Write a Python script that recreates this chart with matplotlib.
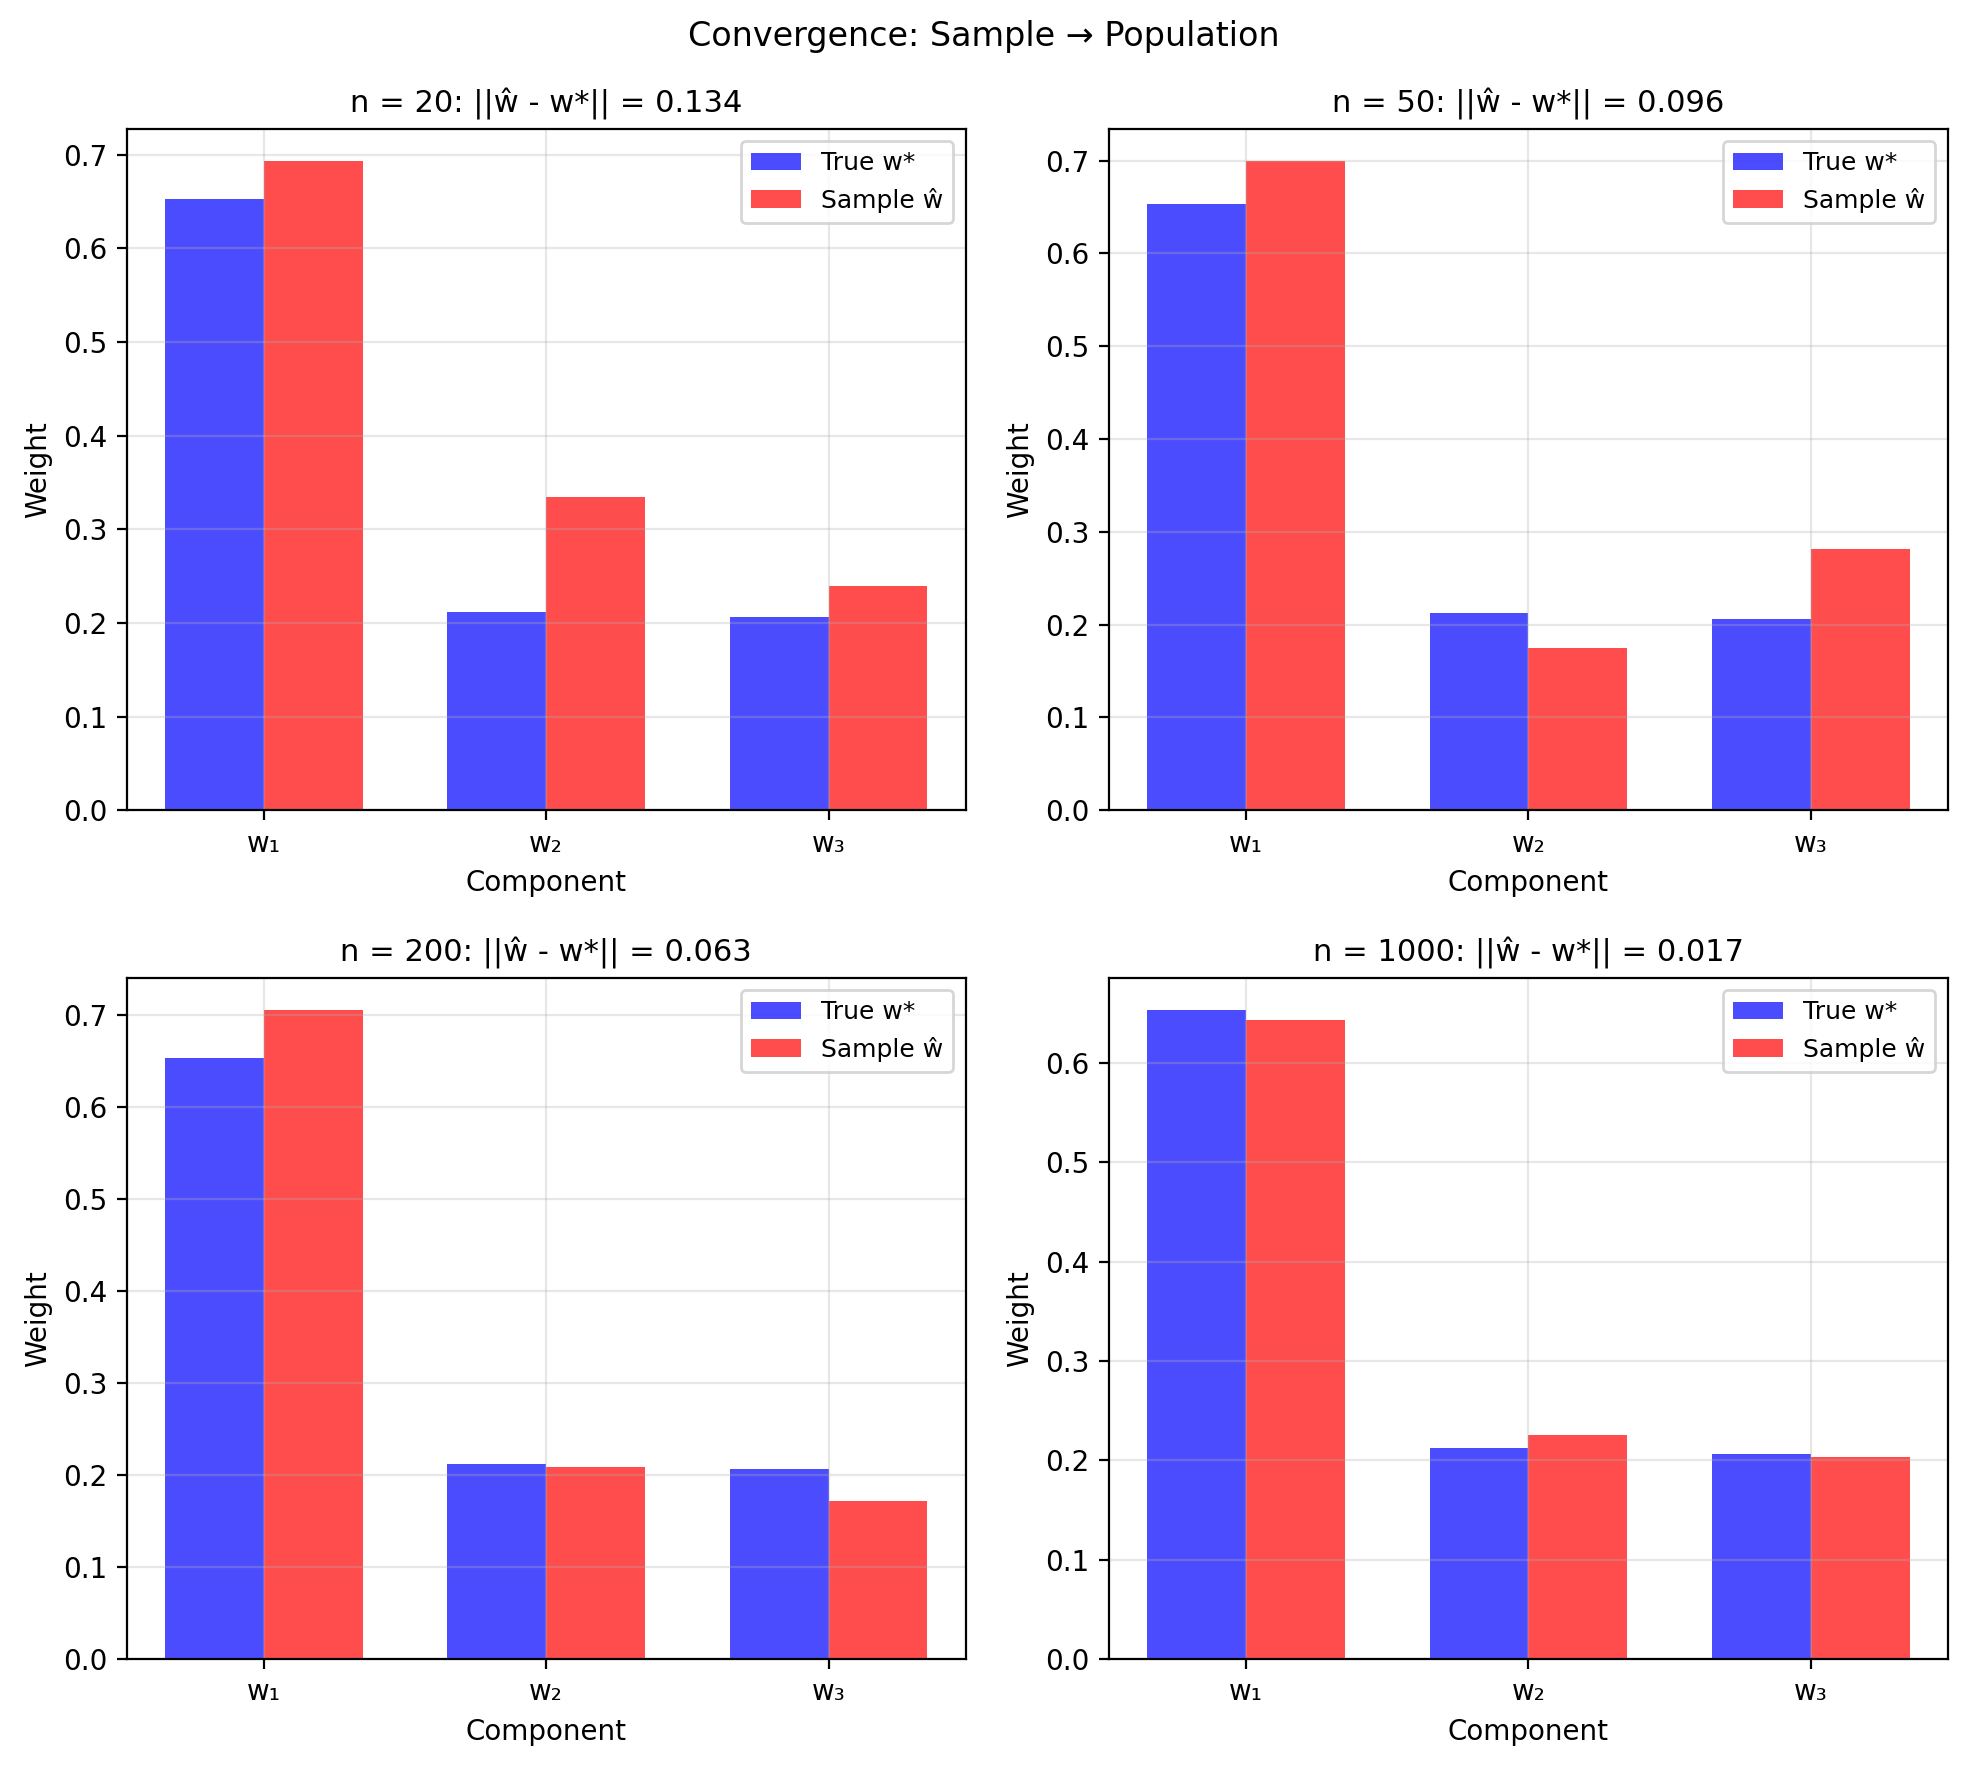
import matplotlib
matplotlib.use("Agg")
import matplotlib.pyplot as plt
import numpy as np

components = ["w₁", "w₂", "w₃"]
true_w = [0.653, 0.212, 0.206]
sample_sizes = [20, 50, 200, 1000]
sample_w_20 = [0.693, 0.335, 0.240]
sample_w_50 = [0.699, 0.175, 0.281]
sample_w_200 = [0.705, 0.209, 0.172]
sample_w_1000 = [0.643, 0.225, 0.203]
errors = [0.134, 0.096, 0.063, 0.017]

samples = [sample_w_20, sample_w_50, sample_w_200, sample_w_1000]

fig, axes = plt.subplots(2, 2, figsize=(1967 / 200, 1767 / 200))
fig.subplots_adjust(left=0.0644, right=0.9903, bottom=0.0611, top=0.927,
                    wspace=0.171, hspace=0.246)
x = np.arange(len(components))
width = 0.35

for ax, n, w_hat, err in zip(axes.flat, sample_sizes, samples, errors):
    ax.bar(x - width / 2, true_w, width, label="True w*", color="blue", alpha=0.7)
    ax.bar(x + width / 2, w_hat, width, label="Sample ŵ", color="red", alpha=0.7)
    ax.set_xticks(x)
    ax.set_xticklabels(components)
    ax.set_xlabel("Component")
    ax.set_ylabel("Weight")
    ax.set_title(f"n = {n}: ||ŵ - w*|| = {err:.3f}", fontsize=11)
    ax.legend(fontsize=9)
    ax.grid(alpha=0.3)

fig.suptitle("Convergence: Sample → Population", fontsize=12, y=0.974, va="baseline")
fig.savefig("out.png", dpi=200)
plt.close(fig)
